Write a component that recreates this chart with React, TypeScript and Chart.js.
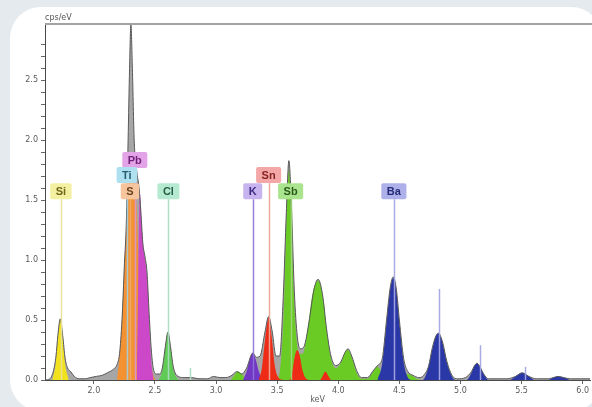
import React, { useEffect, useRef } from 'react';
import { Chart, registerables } from 'chart.js';

Chart.register(...registerables);

type P = [number, number];

// ---- axes ----
const X_MIN = 1.6;
const X_MAX = 6.06;
const Y_MAX = 2.97;
const xTickLabels = ['2.0', '2.5', '3.0', '3.5', '4.0', '4.5', '5.0', '5.5', '6.0'];
const yTickLabels = ['0.0', '0.5', '1.0', '1.5', '2.0', '2.5'];
const xTitle = 'keV';
const yUnit = 'cps/eV';

// ---- spectrum (keV, cps/eV) ----
const totalSpectrum: P[] = [
  [1.6, 0.0], [1.64, 0.01], [1.67, 0.08], [1.69, 0.2], [1.705, 0.37], [1.725, 0.51], [1.745, 0.37],
  [1.765, 0.18], [1.785, 0.1], [1.81, 0.07], [1.84, 0.03], [1.88, 0.01], [1.93, 0.01], [1.97, 0.02],
  [2.02, 0.03], [2.07, 0.04], [2.11, 0.06], [2.16, 0.09], [2.19, 0.13], [2.21, 0.22], [2.23, 0.5],
  [2.25, 0.97], [2.265, 1.3], [2.28, 2.0], [2.292, 2.6], [2.303, 2.97], [2.315, 2.6], [2.33, 2.0],
  [2.35, 1.75], [2.37, 1.6], [2.385, 1.4], [2.4, 1.15], [2.42, 1.02], [2.435, 0.9], [2.45, 0.6],
  [2.47, 0.25], [2.49, 0.08], [2.515, 0.05], [2.54, 0.05], [2.56, 0.1], [2.585, 0.28], [2.606, 0.4],
  [2.627, 0.28], [2.65, 0.11], [2.69, 0.03], [2.74, 0.02], [2.8, 0.02], [2.86, 0.01], [2.93, 0.01],
  [2.98, 0.03], [3.03, 0.02], [3.08, 0.02], [3.13, 0.04], [3.17, 0.07], [3.21, 0.05], [3.25, 0.1],
  [3.3, 0.225], [3.33, 0.19], [3.36, 0.2], [3.4, 0.4], [3.43, 0.53], [3.46, 0.4], [3.49, 0.2],
  [3.52, 0.2], [3.55, 0.7], [3.575, 1.4], [3.596, 1.83], [3.615, 1.5], [3.64, 0.75], [3.665, 0.36],
  [3.69, 0.26], [3.72, 0.28], [3.76, 0.48], [3.8, 0.75], [3.835, 0.84], [3.87, 0.72], [3.905, 0.42],
  [3.94, 0.2], [3.98, 0.12], [4.02, 0.15], [4.055, 0.23], [4.08, 0.26], [4.11, 0.2], [4.15, 0.08],
  [4.19, 0.02], [4.24, 0.02], [4.28, 0.07], [4.32, 0.12], [4.36, 0.18], [4.395, 0.5], [4.425, 0.77],
  [4.45, 0.86], [4.475, 0.76], [4.5, 0.5], [4.535, 0.18], [4.57, 0.07], [4.61, 0.04], [4.66, 0.02],
  [4.7, 0.04], [4.74, 0.12], [4.77, 0.27], [4.8, 0.37], [4.82, 0.39], [4.85, 0.33], [4.89, 0.15],
  [4.93, 0.04], [4.98, 0.01], [5.04, 0.02], [5.09, 0.07], [5.115, 0.12], [5.135, 0.14], [5.16, 0.11],
  [5.19, 0.05], [5.23, 0.01], [5.3, 0.01], [5.38, 0.01], [5.45, 0.03], [5.505, 0.06], [5.56, 0.03],
  [5.62, 0.01], [5.72, 0.01], [5.76, 0.02], [5.8, 0.03], [5.845, 0.02], [5.9, 0.01], [5.98, 0.01],
  [6.06, 0.01],
];

const siPeaks: P[] = [
  [1.66, 0], [1.685, 0.12], [1.705, 0.35], [1.725, 0.51], [1.745, 0.35], [1.765, 0.13], [1.795, 0],
];

const sPeaks: P[] = [
  [2.19, 0], [2.21, 0.2], [2.23, 0.5], [2.25, 0.95], [2.27, 1.35], [2.29, 1.65], [2.31, 1.75],
  [2.33, 1.6], [2.35, 1.45], [2.365, 1.0], [2.38, 0.4], [2.4, 0.1], [2.42, 0.06], [2.44, 0.1],
  [2.46, 0.14], [2.48, 0.06], [2.5, 0],
];

const pbPeaks: P[] = [
  [2.35, 0], [2.36, 0.6], [2.368, 1.3], [2.378, 1.55], [2.39, 1.3], [2.405, 1.1], [2.42, 1.0],
  [2.44, 0.8], [2.455, 0.45], [2.47, 0.15], [2.49, 0],
];

const clPeaks: P[] = [
  [2.53, 0], [2.56, 0.08], [2.585, 0.27], [2.606, 0.4], [2.627, 0.27], [2.65, 0.09], [2.69, 0],
];

const kPeaks: P[] = [
  [3.22, 0], [3.25, 0.07], [3.275, 0.17], [3.3, 0.225], [3.325, 0.17], [3.35, 0.07], [3.38, 0],
];

const snPeaks: P[] = [
  [3.35, 0], [3.375, 0.1], [3.4, 0.33], [3.43, 0.52], [3.455, 0.36], [3.48, 0.12], [3.51, 0.02],
  [3.55, 0], [3.6, 0], [3.625, 0.08], [3.645, 0.2], [3.665, 0.25], [3.685, 0.2], [3.705, 0.09],
  [3.73, 0.02], [3.76, 0], [3.85, 0], [3.875, 0.04], [3.895, 0.07], [3.915, 0.04], [3.94, 0],
];

const sbPeaks: P[] = [
  [3.12, 0], [3.15, 0.04], [3.18, 0.07], [3.21, 0.05], [3.24, 0.01], [3.27, 0], [3.48, 0],
  [3.5, 0], [3.53, 0.15], [3.555, 0.6], [3.575, 1.3], [3.596, 1.76], [3.615, 1.35], [3.635, 0.75],
  [3.655, 0.38], [3.68, 0.22], [3.71, 0.22], [3.75, 0.43], [3.79, 0.72], [3.835, 0.83],
  [3.875, 0.68], [3.91, 0.38], [3.94, 0.18], [3.98, 0.1], [4.02, 0.14], [4.055, 0.23], [4.08, 0.25],
  [4.11, 0.19], [4.15, 0.06], [4.19, 0.01], [4.24, 0.01], [4.28, 0.06], [4.32, 0.11], [4.36, 0.06],
  [4.4, 0.02], [4.5, 0.02], [4.56, 0.05], [4.6, 0.04], [4.64, 0.01], [4.68, 0],
];

const baPeaks: P[] = [
  [4.32, 0], [4.36, 0.14], [4.395, 0.48], [4.425, 0.76], [4.45, 0.85], [4.475, 0.75], [4.5, 0.48],
  [4.535, 0.15], [4.57, 0.02], [4.6, 0], [4.69, 0], [4.73, 0.08], [4.77, 0.26], [4.8, 0.37],
  [4.82, 0.39], [4.85, 0.32], [4.89, 0.14], [4.93, 0.03], [4.96, 0], [5.05, 0], [5.09, 0.06],
  [5.115, 0.12], [5.135, 0.14], [5.16, 0.11], [5.19, 0.05], [5.23, 0], [5.4, 0], [5.45, 0.03],
  [5.505, 0.06], [5.56, 0.03], [5.61, 0], [5.72, 0], [5.76, 0.02], [5.8, 0.03], [5.845, 0.02],
  [5.89, 0],
];

// ---- element markers ----
const markerNames = ['Si', 'Pb', 'Ti', 'S', 'Cl', 'K', 'Sn', 'Sb', 'Ba'];
const markerEnergies = [1.73, 2.335, 2.27, 2.295, 2.61, 3.3, 3.43, 3.61, 4.455];
const markerLevels = [1.575, 1.835, 1.71, 1.575, 1.575, 1.575, 1.71, 1.575, 1.575];

const extraLineElements = ['Ba', 'Ba', 'Ba', 'Cl'];
const extraLineEnergies = [4.825, 5.16, 5.53, 2.79];
const extraLineHeights = [0.76, 0.29, 0.11, 0.1];

const elementStyle: Record<string, { fill: string; box: string; text: string; line: string }> = {
  Si: { fill: '#f2e21e', box: '#f4f0a2', text: '#6f6618', line: 'rgba(232,226,150,0.95)' },
  Pb: { fill: '#cc48c8', box: '#e2a4e6', text: '#74207a', line: 'rgba(214,150,218,0.9)' },
  Ti: { fill: '#7fd0e8', box: '#aee0ef', text: '#275e72', line: 'rgba(160,210,230,0.9)' },
  S: { fill: '#f39232', box: '#f7c59d', text: '#6a4420', line: 'rgba(244,172,110,0.9)' },
  Cl: { fill: '#5fcb55', box: '#b6ead0', text: '#235f44', line: 'rgba(170,220,192,0.95)' },
  K: { fill: '#7337c6', box: '#c7b3ee', text: '#3c2a82', line: 'rgba(140,114,216,0.9)' },
  Sn: { fill: '#ee2b16', box: '#f4a7a7', text: '#862424', line: 'rgba(236,168,150,0.95)' },
  Sb: { fill: '#6acb24', box: '#aae48f', text: '#2a5a18', line: 'rgba(160,216,128,0.9)' },
  Ba: { fill: '#2a37a6', box: '#aeb0ea', text: '#252a74', line: 'rgba(164,166,228,0.95)' },
};

const componentOrder: { name: string; pts: P[] }[] = [
  { name: 'Sn', pts: snPeaks },
  { name: 'K', pts: kPeaks },
  { name: 'Cl', pts: clPeaks },
  { name: 'Si', pts: siPeaks },
  { name: 'Pb', pts: pbPeaks },
  { name: 'S', pts: sPeaks },
  { name: 'Ba', pts: baPeaks },
  { name: 'Sb', pts: sbPeaks },
];

const toPts = (a: P[]) => a.map(([x, y]) => ({ x, y }));

const markerPlugin = {
  id: 'edxMarkers',
  afterDatasetsDraw(chart: any) {
    const { ctx, chartArea, scales } = chart;
    const xs = scales.x;
    const ys = scales.y;
    const y0 = ys.getPixelForValue(0);
    const boxH = 16;
    ctx.save();
    ctx.beginPath();
    ctx.rect(chartArea.left, chartArea.top, chartArea.right - chartArea.left, chartArea.bottom - chartArea.top);
    ctx.clip();
    extraLineElements.forEach((el, i) => {
      const px = Math.round(xs.getPixelForValue(extraLineEnergies[i])) + 0.5;
      ctx.strokeStyle = elementStyle[el].line;
      ctx.lineWidth = 1.5;
      ctx.beginPath();
      ctx.moveTo(px, y0);
      ctx.lineTo(px, ys.getPixelForValue(extraLineHeights[i]));
      ctx.stroke();
    });
    markerNames.forEach((el, i) => {
      const px = Math.round(xs.getPixelForValue(markerEnergies[i])) + 0.5;
      const cy = ys.getPixelForValue(markerLevels[i]);
      ctx.strokeStyle = elementStyle[el].line;
      ctx.lineWidth = 1.5;
      ctx.beginPath();
      ctx.moveTo(px, y0);
      ctx.lineTo(px, cy + boxH / 2);
      ctx.stroke();
    });
    ctx.font = 'bold 11px "Liberation Sans", Arial, sans-serif';
    ctx.textAlign = 'center';
    ctx.textBaseline = 'middle';
    markerNames.forEach((el, i) => {
      const px = xs.getPixelForValue(markerEnergies[i]);
      const cy = ys.getPixelForValue(markerLevels[i]);
      const w = ctx.measureText(el).width + 11;
      const st = elementStyle[el];
      ctx.fillStyle = st.box;
      ctx.beginPath();
      (ctx as any).roundRect(px - w / 2, cy - boxH / 2, w, boxH, 2);
      ctx.fill();
      ctx.fillStyle = st.text;
      ctx.fillText(el, px, cy + 0.5);
    });
    ctx.restore();

    ctx.save();
    ctx.strokeStyle = '#a3a3a3';
    ctx.lineWidth = 2;
    ctx.beginPath();
    ctx.moveTo(chartArea.left, chartArea.top);
    ctx.lineTo(chart.width, chartArea.top);
    ctx.stroke();
    ctx.fillStyle = '#555';
    ctx.font = '8px "DejaVu Sans", sans-serif';
    ctx.textAlign = 'left';
    ctx.textBaseline = 'bottom';
    ctx.fillText(yUnit, chartArea.left, chartArea.top - 2);
    ctx.restore();
  },
};

export default function App() {
  const ref = useRef<HTMLCanvasElement>(null);
  useEffect(() => {
    document.body.style.margin = '0';
    const datasets: any[] = [];
    datasets.push({
      label: 'total-outline',
      data: toPts(totalSpectrum),
      borderColor: '#585858',
      borderWidth: 1,
      fill: false,
      order: 0,
    });
    componentOrder.forEach((c, i) => {
      datasets.push({
        label: c.name,
        data: toPts(c.pts),
        borderColor: 'rgba(0,0,0,0)',
        borderWidth: 1,
        backgroundColor: elementStyle[c.name].fill,
        fill: 'origin',
        order: i + 1,
      });
    });
    datasets.push({
      label: 'total-fill',
      data: toPts(totalSpectrum),
      borderColor: 'rgba(0,0,0,0)',
      borderWidth: 1,
      backgroundColor: '#a6a6a6',
      fill: 'origin',
      order: 20,
    });

    const tickFont = { family: '"DejaVu Sans", sans-serif', size: 8 };
    const chart = new Chart(ref.current as HTMLCanvasElement, {
      type: 'line',
      data: { datasets },
      plugins: [markerPlugin],
      options: {
        animation: false,
        responsive: false,
        devicePixelRatio: 1,
        layout: { padding: { left: 6, right: 2, top: 24, bottom: 0 } },
        elements: {
          point: { radius: 0, hoverRadius: 0 },
          line: { cubicInterpolationMode: 'monotone' },
        },
        plugins: {
          legend: { display: false },
          tooltip: { enabled: false },
        },
        scales: {
          x: {
            type: 'linear',
            min: X_MIN,
            max: X_MAX,
            ticks: {
              autoSkip: false,
              maxRotation: 0,
              font: tickFont,
              color: '#5a5a5a',
              padding: 2,
              callback: (v: any) => Number(v).toFixed(1),
            },
            afterBuildTicks: (s: any) => {
              s.ticks = xTickLabels.map((l) => ({ value: parseFloat(l) }));
            },
            afterFit: (s: any) => {
              s.height = 27;
            },
            grid: { drawOnChartArea: false, drawTicks: true, tickLength: 4, color: '#666' },
            border: { color: '#4a4a4a', width: 1 },
            title: {
              display: true,
              text: xTitle,
              font: tickFont,
              color: '#5a5a5a',
              padding: { top: 0, bottom: 2 },
            },
          },
          y: {
            type: 'linear',
            min: 0,
            max: Y_MAX,
            ticks: {
              stepSize: 0.1,
              autoSkip: false,
              font: tickFont,
              color: '#5a5a5a',
              padding: 3,
              callback: (v: any) => {
                const t = Number(v).toFixed(1);
                const major = Math.abs(Number(v) * 2 - Math.round(Number(v) * 2)) < 1e-6;
                return major && yTickLabels.includes(t) ? t : '';
              },
            },
            afterBuildTicks: (s: any) => {
              s.ticks = s.ticks.filter((t: any) => Math.abs(t.value * 10 - Math.round(t.value * 10)) < 1e-6);
            },
            afterFit: (s: any) => {
              s.width = 39;
            },
            grid: { drawOnChartArea: false, drawTicks: true, tickLength: 4, color: '#666' },
            border: { color: '#4a4a4a', width: 1 },
          },
        },
      } as any,
    });
    return () => chart.destroy();
  }, []);

  return (
    <div
      style={{
        position: 'fixed',
        left: 0,
        top: 0,
        width: 592,
        height: 407,
        background: '#e5eaee',
        overflow: 'hidden',
      }}
    >
      <div
        style={{
          position: 'absolute',
          left: 10,
          top: 7,
          width: 592,
          height: 404,
          background: '#ffffff',
          borderRadius: 31,
        }}
      />
      <canvas
        ref={ref}
        width={592}
        height={407}
        style={{ position: 'absolute', left: 0, top: 0, width: 592, height: 407 }}
      />
    </div>
  );
}
